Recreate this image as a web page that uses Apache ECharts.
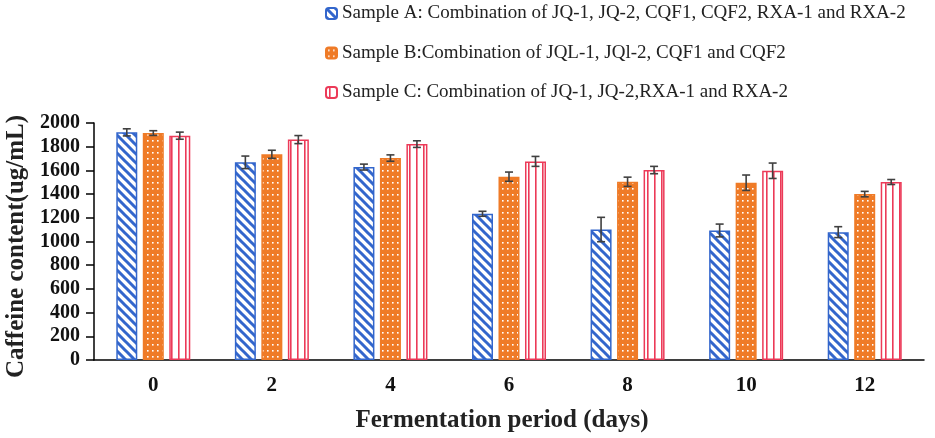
<!DOCTYPE html>
<html>
<head>
<meta charset="utf-8">
<script src="https://cdn.jsdelivr.net/npm/echarts@6/dist/echarts.min.js"></script>
<style>html,body{margin:0;padding:0;background:#fff}#c{width:935px;height:438px}</style>
</head>
<body>
<div id="c"></div>
<script>
const categories = ['0', '2', '4', '6', '8', '10', '12'];
const seriesNames = [
  'Sample A: Combination of JQ-1, JQ-2, CQF1, CQF2, RXA-1 and RXA-2',
  'Sample B:Combination of JQL-1, JQl-2, CQF1 and CQF2',
  'Sample C: Combination of JQ-1, JQ-2,RXA-1 and RXA-2'
];
const sampleA = [1921, 1668, 1628, 1234, 1101, 1093, 1079];
const sampleB = [1915, 1736, 1704, 1547, 1504, 1496, 1400];
const sampleC = [1893, 1860, 1822, 1676, 1603, 1597, 1502];
const errA = [30, 53, 25, 21, 103, 54, 46];
const errB = [20, 34, 27, 39, 39, 65, 23];
const errC = [30, 34, 28, 42, 31, 65, 21];
const yTicks = [0, 200, 400, 600, 800, 1000, 1200, 1400, 1600, 1800, 2000];

const BLUE = '#3366cc', ORANGE = '#ef7b27', RED = '#ec3a58';
const FONT = '"Liberation Serif", "Times New Roman", serif';

function mk(w, h, draw) {
  const c = document.createElement('canvas'); c.width = w; c.height = h;
  const g = c.getContext('2d'); draw(g); return c;
}
const stripe = mk(9, 9, g => {
  g.fillStyle = '#fff'; g.fillRect(0, 0, 9, 9);
  g.strokeStyle = BLUE; g.lineWidth = 3; g.beginPath();
  g.moveTo(-2, -2); g.lineTo(11, 11);
  g.moveTo(-2, 7); g.lineTo(2, 11);
  g.moveTo(7, -2); g.lineTo(11, 2);
  g.stroke();
});
const dots = mk(5, 6, g => {
  g.fillStyle = ORANGE; g.fillRect(0, 0, 5, 6);
  g.fillStyle = '#fff'; g.fillRect(2, 2, 1.6, 1.6);
});
const vlines = mk(7, 4, g => {
  g.fillStyle = '#fff'; g.fillRect(0, 0, 7, 4);
  g.fillStyle = RED; g.fillRect(3, 0, 1.6, 4);
});

const BAR_W = 21, GAP = 5.5;
const offsets = [-(BAR_W + GAP), 0, BAR_W + GAP];

function barSeries(i, data, pat, col) {
  return {
    name: seriesNames[i], type: 'bar', data: data,
    barWidth: BAR_W, barGap: (GAP / BAR_W * 100) + '%',
    itemStyle: { color: { image: pat, repeat: 'repeat' }, borderColor: col, borderWidth: 1.5 }
  };
}
function errSeries(i, vals, errs) {
  return {
    type: 'custom', silent: true, z: 10,
    data: vals.map((v, k) => [k, v, errs[k]]),
    renderItem: function (params, api) {
      const k = api.value(0), v = api.value(1), e = api.value(2);
      const top = api.coord([k, v + e]);
      const bot = api.coord([k, v - e]);
      const x = top[0] + offsets[i];
      const cw = 4;
      const st = { stroke: '#404040', lineWidth: 1.6 };
      return {
        type: 'group', children: [
          { type: 'line', shape: { x1: x, y1: top[1], x2: x, y2: bot[1] }, style: st },
          { type: 'line', shape: { x1: x - cw, y1: top[1], x2: x + cw, y2: top[1] }, style: st },
          { type: 'line', shape: { x1: x - cw, y1: bot[1], x2: x + cw, y2: bot[1] }, style: st }
        ]
      };
    }
  };
}

const chart = echarts.init(document.getElementById('c'));
chart.setOption({
  animation: false,
  textStyle: { fontFamily: FONT },
  legend: {
    data: seriesNames, orient: 'vertical', left: 320, top: -1, itemGap: 20.5,
    itemWidth: 11, itemHeight: 11,
    textStyle: { fontFamily: FONT, fontSize: 19, color: '#222' }
  },
  grid: { left: 94, right: 11, top: 123, bottom: 78, containLabel: false, outerBoundsMode: 'none' },
  xAxis: [{
    type: 'category', data: categories,
    axisLine: { lineStyle: { color: '#000', width: 1.5 } },
    axisTick: { inside: true, length: 5, lineStyle: { color: '#000', width: 1.5 },
      interval: function (i) { return i % 2 === 1; } },
    axisLabel: { fontFamily: FONT, fontSize: 21, fontWeight: 'bold', color: '#111', margin: 15 },
    name: 'Fermentation period (days)', nameLocation: 'middle', nameGap: 48,
    nameTextStyle: { fontFamily: FONT, fontSize: 25, fontWeight: 'bold', color: '#222', padding: [0, 14, 0, 0] }
  }, {
    type: 'category', data: categories, position: 'bottom',
    axisLine: { show: false },
    axisTick: { inside: false, length: 6, lineStyle: { color: '#000', width: 1.5 },
      interval: function (i) { return i > 0 && i % 2 === 0; } },
    axisLabel: { show: false }
  }],
  yAxis: {
    type: 'value', min: 0, max: 2000, interval: 200,
    axisLine: { show: true, lineStyle: { color: '#000', width: 1.5 } },
    axisTick: { show: true, length: 8, lineStyle: { color: '#000', width: 1.5 } },
    splitLine: { show: false },
    axisLabel: { fontFamily: FONT, fontSize: 20, fontWeight: 'bold', color: '#111', margin: 14,
      formatter: function (v) { return yTicks.indexOf(v) >= 0 ? String(v) : ''; } },
    name: 'Caffeine content(ug/mL)', nameLocation: 'middle', nameGap: 63,
    nameTextStyle: { fontFamily: FONT, fontSize: 25, fontWeight: 'bold', color: '#222', padding: [0, 10, 0, 0] }
  },
  series: [
    barSeries(0, sampleA, stripe, BLUE),
    barSeries(1, sampleB, dots, ORANGE),
    barSeries(2, sampleC, vlines, RED),
    errSeries(0, sampleA, errA),
    errSeries(1, sampleB, errB),
    errSeries(2, sampleC, errC)
  ]
});
</script>
</body>
</html>
